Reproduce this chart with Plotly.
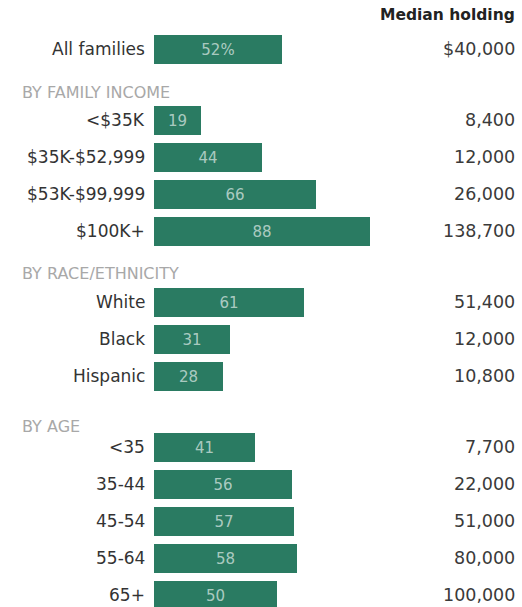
import plotly.graph_objects as go

# Share of families holding stocks (%) and median holding ($), by group
sections = ["", "BY FAMILY INCOME", "BY RACE/ETHNICITY", "BY AGE"]
overall_labels = ["All families"]
overall_share = [52]
overall_median = [40000]

income_labels = ["<$35K", "$35K-$52,999", "$53K-$99,999", "$100K+"]
income_share = [19, 44, 66, 88]
income_median = [8400, 12000, 26000, 138700]

race_labels = ["White", "Black", "Hispanic"]
race_share = [61, 31, 28]
race_median = [51400, 12000, 10800]

age_labels = ["<35", "35-44", "45-54", "55-64", "65+"]
age_share = [41, 56, 57, 58, 50]
age_median = [7700, 22000, 51000, 80000, 100000]

groups = [
    (overall_labels, overall_share, overall_median),
    (income_labels, income_share, income_median),
    (race_labels, race_share, race_median),
    (age_labels, age_share, age_median),
]

# Vertical layout (y axis runs in pixel-like units, top to bottom)
W, H = 522, 607
LEFT = 154
FIRST_ROW = 49
PITCH = 37
SECTION_GAP = 71
HEADER_OFFSETS = [0, 28, 29, 21]
PX_PER_UNIT = 2.46

GREEN = "#2a7b62"
FONT = "DejaVu Sans"

labels, shares, medians, ys = [], [], [], []
header_y = []
y = FIRST_ROW
for gi, (lab, sh, md) in enumerate(groups):
    if gi > 0:
        y += SECTION_GAP
        header_y.append(y - HEADER_OFFSETS[gi])
    for j, (l, s, m) in enumerate(zip(lab, sh, md)):
        if j > 0:
            y += PITCH
        labels.append(l)
        shares.append(s)
        medians.append(m)
        ys.append(y)

bar_text = [f"{s}%" if i == 0 else str(s) for i, s in enumerate(shares)]
median_text = [f"${m:,}" if i == 0 else f"{m:,}" for i, m in enumerate(medians)]

fig = go.Figure(
    go.Bar(
        x=shares,
        y=ys,
        orientation="h",
        width=29,
        marker=dict(color=GREEN, line=dict(width=0)),
        text=bar_text,
        textposition="inside",
        insidetextanchor="middle",
        textangle=0,
        textfont=dict(family=FONT, size=15, color="rgba(255,255,255,0.62)"),
        hoverinfo="skip",
    )
)

annotations = []
# Row labels to the left of the bars
for l, yy in zip(labels, ys):
    annotations.append(dict(
        x=0, y=yy, xref="x", yref="y", text=l, showarrow=False,
        xanchor="right", yanchor="middle", xshift=-7,
        font=dict(family=FONT, size=17, color="#333333"),
    ))
# Median holding values, right-aligned
for t, yy in zip(median_text, ys):
    annotations.append(dict(
        x=1, y=yy, xref="paper", yref="y", text=t, showarrow=False,
        xanchor="right", yanchor="middle", xshift=-5,
        font=dict(family=FONT, size=17.5, color="#3a3a3a"),
    ))
# Section headers
for name, hy in zip(sections[1:], header_y):
    annotations.append(dict(
        x=0, y=hy, xref="paper", yref="y", text=name, showarrow=False,
        xanchor="left", yanchor="middle", xshift=20 - LEFT,
        font=dict(family=FONT, size=16, color="#a8a8a8"),
    ))
# Column header
annotations.append(dict(
    x=1, y=15, xref="paper", yref="y", text="<b>Median holding</b>",
    showarrow=False, xanchor="right", yanchor="middle", xshift=-5,
    font=dict(family=FONT, size=15.5, color="#222222"),
))

fig.update_layout(
    width=W,
    height=H,
    margin=dict(l=LEFT, r=0, t=0, b=0),
    paper_bgcolor="white",
    plot_bgcolor="white",
    showlegend=False,
    bargap=0,
    annotations=annotations,
    uniformtext=dict(minsize=8, mode="show"),
    xaxis=dict(range=[0, (W - LEFT) / PX_PER_UNIT], visible=False, fixedrange=True),
    yaxis=dict(range=[H, 0], visible=False, fixedrange=True),
)

fig.write_html("out.html", config={"displayModeBar": False})
